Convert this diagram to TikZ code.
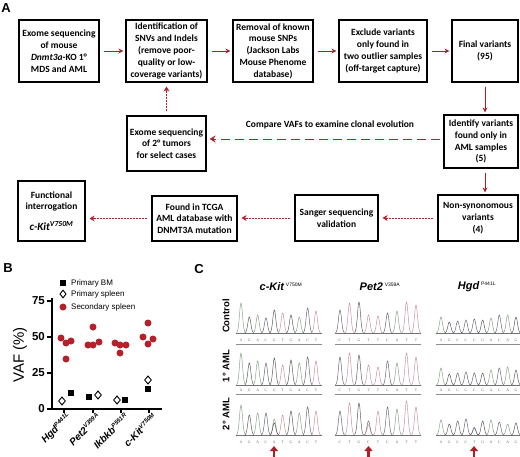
\documentclass[tikz,border=0pt]{standalone}
\usepackage{fontspec}
\setmainfont{Carlito}
\newfontfamily\arial{Liberation Sans}
\newfontfamily\seqf{Liberation Serif}
\usetikzlibrary{arrows.meta}
\definecolor{ared}{HTML}{B01E28}
\definecolor{dotred}{HTML}{B5202B}
\definecolor{colA}{HTML}{7E9E7E}
\definecolor{colC}{HTML}{5C5C70}
\definecolor{colG}{HTML}{505050}
\definecolor{colT}{HTML}{C4889A}
\newcommand\boxfont{\fontsize{9.5}{11.8}\selectfont\bfseries}
\newcommand\chromo[5]{%
  \foreach \L/\h [count=\i from 0] in {#5} {%
    \pgfmathsetmacro\cx{#1+\i*#2}%
    \draw[draw=col\L, line width=0.45pt] plot[domain=-4.5:4.5, samples=21, smooth] ({\cx+\x},{#3-\h*exp(-0.22*(\x)*(\x))});%
    \node[seqletter] at (\cx,#4) {\L};%
  }}
\newcommand\xpeak[4]{%
  \draw[draw=col#4, line width=0.45pt] plot[domain=-4.5:4.5, samples=21, smooth] ({#1+\x},{#2-#3*exp(-0.22*(\x)*(\x))});}
\begin{document}
\begin{tikzpicture}[x=1pt,y=-1pt,
  box/.style={draw, line width=1.1pt, align=center, inner sep=1pt, font=\boxfont},
  solidarr/.style={draw=ared, line width=0.8pt, -{Stealth[length=5pt,width=5pt]}, shorten <=4pt, shorten >=2pt},
  dotarr/.style={draw=dotred, line width=0.9pt, dash pattern=on 2pt off 1pt, -{Stealth[length=5pt,width=6pt]}, shorten <=4pt, shorten >=4pt},
  longarr/.style={draw=dotred, line width=1pt, dash pattern=on 9pt off 5pt, -{Stealth[length=6pt,width=7pt]}, shorten <=3pt, shorten >=3pt},
  panel/.style={font=\arial\fontsize{13}{13}\selectfont\bfseries},
  seqletter/.style={font=\seqf\fontsize{3.8}{4}\selectfont, text=black!60, inner sep=0},
  ticklbl/.style={font=\arial\fontsize{11.5}{12}\selectfont\bfseries, inner sep=0},
  xlbl/.style={font=\arial\fontsize{10}{10}\selectfont\bfseries\itshape, inner sep=0, rotate=45, anchor=east},
  leg/.style={font=\arial\fontsize{8}{9}\selectfont, anchor=west, inner sep=0},
  rowlbl/.style={font=\arial\fontsize{9.5}{10}\selectfont\bfseries, rotate=90},
  coltitle/.style={font=\arial\fontsize{11}{12}\selectfont\bfseries\itshape},
  redpt/.style={fill=dotred, draw=none},
]
\useasboundingbox (0,0) rectangle (520,456);
\fill[white] (0,0) rectangle (520,456);

% ---------------- Panel A ----------------
\node[panel] (pA) at (6,8) {A};
\node[box, minimum width=80pt, minimum height=62pt] (b1) at (59,51) {Exome sequencing\\of mouse\\\textit{Dnmt3a}-KO 1°\\MDS and AML};
\node[box, minimum width=81pt, minimum height=62pt] (b2) at (166.5,51) {Identification of\\SNVs and Indels\\(remove poor-\\quality or low-\\coverage variants)};
\node[box, minimum width=80pt, minimum height=62pt] (b3) at (273,51) {Removal of known\\mouse SNPs\\(Jackson Labs\\Mouse Phenome\\database)};
\node[box, minimum width=88pt, minimum height=62pt] (b4) at (383,51) {Exclude variants\\only found in\\two outlier samples\\(off-target capture)};
\node[box, minimum width=66pt, minimum height=62pt] (b5) at (485,51) {Final variants\\(95)};
\node[box, minimum width=74pt, minimum height=53pt] (b6) at (481,141.5) {Identify variants\\found only in\\AML samples\\(5)};
\node[box, minimum width=80pt, minimum height=46pt] (b7) at (478,218) {Non-synonomous\\variants\\(4)};
\node[box, minimum width=83pt, minimum height=46pt] (b8) at (336.5,218) {Sanger sequencing\\validation};
\node[box, minimum width=85pt, minimum height=45pt] (b9) at (194.5,218.5) {Found in TCGA\\AML database with\\DNMT3A mutation};
\node[box, minimum width=67pt, minimum height=60pt] (b10) at (51.5,211) {Functional\\interrogation\\[9pt]{\fontsize{11}{13}\selectfont\itshape c-Kit\textsuperscript{V750M}}};
\node[box, minimum width=79pt, minimum height=55pt] (b11) at (166.5,143.5) {Exome sequencing\\of 2° tumors\\for select cases};
\node[font=\boxfont] (lbl) at (330,125) {Compare VAFs to examine clonal evolution};

\draw[solidarr] (b1) -- (b2);
\draw[solidarr] (b2) -- (b3);
\draw[solidarr] (b3) -- (b4);
\draw[solidarr] (b4) -- (b5);
\draw[solidarr] (b5.south) -- (b5.south |- b6.north);
\draw[solidarr] (b5.south |- b6.south) -- (b5.south |- b7.north);
\draw[dotarr] (b7.west) -- (b8.east |- b7.west);
\draw[dotarr] (b8.west) -- (b9.east |- b8.west);
\draw[dotarr] (b9.west) -- (b10.east |- b9.west);
\draw[dotarr] (b11.north) -- (b2.south);
\draw[longarr] ([yshift=2.5pt]b6.west) -- ([yshift=2.5pt]b11.east |- b6.west);

% ---------------- Panel B ----------------
\node[panel] (pB) at (8,268) {B};
\draw[line width=1.3pt] (52,298) -- (52,409) -- (162,409);
\foreach \v/\yy in {0/409,25/373,50/337,75/301} {
  \draw[line width=1.3pt] (47,\yy) -- (52,\yy);
  \node[ticklbl, anchor=east] at (45,\yy) {\v};
}
\foreach \xx in {64,93,121,149} \draw[line width=1.1pt] (\xx,409) -- (\xx,413);
\node[font=\arial\fontsize{15}{15}\selectfont, rotate=90] (yl) at (20,355) {VAF (\%)};
\node[xlbl] at (70,415) {Hgd\textsuperscript{\fontsize{6}{6}\selectfont P441L}};
\node[xlbl] at (99,415) {Pet2\textsuperscript{\fontsize{6}{6}\selectfont V359A}};
\node[xlbl] at (127,415) {Ikbkb\textsuperscript{\fontsize{6}{6}\selectfont P551R}};
\node[xlbl] at (155,415) {c-Kit\textsuperscript{\fontsize{6}{6}\selectfont V750M}};
% legend
\fill (60,280) rectangle (66,286);
\node[leg] at (71,283) {Primary BM};
\draw[line width=0.9pt, fill=white] (63,290.2) -- (66,294) -- (63,297.8) -- (60,294) -- cycle;
\node[leg] at (71,294) {Primary spleen};
\fill[redpt] (63,307) circle (3.5);
\node[leg] at (71,307) {Secondary spleen};
% data
\foreach \px/\py in {61/338,66/343,71/341,66/359, 88/345,93/345,99/342,93/327, 115/343,120/345,126/345,120/353, 143/337,148/323,153/339,148/344}
  \fill[redpt] (\px,\py) circle (3.5);
\foreach \px/\py in {71/393,89/397,125/400,148/389}
  \fill (\px-3.2,\py-3.2) rectangle (\px+3.2,\py+3.2);
\foreach \px/\py in {62/401,98/395,117/400,148/380}
  \draw[line width=0.9pt, fill=white] (\px,\py-4) -- (\px+3.3,\py) -- (\px,\py+4) -- (\px-3.3,\py) -- cycle;

% ---------------- Panel C ----------------
\node[panel] (pC) at (199,269) {C};
\node[coltitle] (t1) at (281,287) {c-Kit\,\textsuperscript{\normalfont\arial\fontsize{5}{5}\selectfont V750M}};
\node[coltitle] (t2) at (380,287) {Pet2\,\textsuperscript{\normalfont\arial\fontsize{5}{5}\selectfont V359A}};
\node[coltitle] (t3) at (477,287) {Hgd\,\textsuperscript{\normalfont\arial\fontsize{5}{5}\selectfont P441L}};
\node[rowlbl] (r1) at (226,316) {Control};
\node[rowlbl] (r2) at (226,366) {1° AML};
\node[rowlbl] (r3) at (226,414) {2° AML};

% baselines
\foreach \xa/\xb in {236/322, 335/421, 436/521} {
  \foreach \yb in {333,385,435} \draw[black!55, line width=0.4pt] (\xa,\yb) -- (\xb,\yb);
  \draw[black!45, line width=1.4pt] (\xa,344.5) -- (\xb,344.5);
  \draw[black!45, line width=1.4pt] (\xa,394.5) -- (\xb,394.5);
}
% c-Kit
\chromo{241}{8.33}{333}{340}{A/30,G/16,A/18,C/15,G/23,T/20,G/18,A/16,C/25,T/22}
\chromo{241}{8.33}{385}{390}{A/32,G/22,A/24,C/22,G/27,T/20,G/25,A/22,C/28,T/24}
\chromo{241}{8.33}{435}{442}{A/30,G/20,A/22,C/22,A/16,T/20,G/24,A/22,C/28,T/24}
\xpeak{274.3}{435}{12}{G}
% Pet2
\chromo{340}{9.5}{333}{340}{C/23,T/30,G/31,T/18,T/17,C/20,A/22,T/31,T/28}
\chromo{340}{9.5}{385}{390}{C/28,T/32,G/30,T/20,T/18,C/24,A/22,T/32,T/28}
\chromo{340}{9.5}{435}{442}{C/24,T/32,G/32,C/14,T/24,C/28,A/26,T/34,T/28}
\xpeak{368.5}{435}{10}{T}
% Hgd
\chromo{441}{8.33}{333}{340}{A/16,G/11,C/12,C/13,C/14,G/13,A/15,C/18,A/18,G/16}
\chromo{441}{8.33}{385}{390}{A/17,G/11,C/12,C/13,C/12,G/12,A/15,C/17,A/18,G/15}
\chromo{441}{8.33}{435}{442}{A/15,G/11,C/14,C/16,T/8,G/14,A/15,C/13,A/11,G/12}
\xpeak{474.3}{435}{7}{C}
% red arrows
\foreach \ax in {274,368.5,474} \draw[draw=ared, line width=2.4pt, -{Triangle[width=8pt,length=5pt]}] (\ax,457) -- (\ax,446);
\end{tikzpicture}
\end{document}
